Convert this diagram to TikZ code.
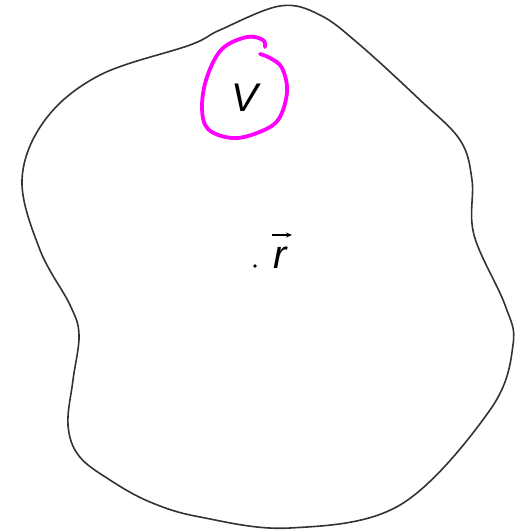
\documentclass[tikz,border=0pt]{standalone}
\usepackage{fontspec}
\setmainfont{Liberation Sans}
\usetikzlibrary{arrows.meta}
\begin{document}
\begin{tikzpicture}[x=1pt,y=-1pt,
  blob/.style={draw=black!80,line width=1.6pt},
  loop/.style={draw={rgb,255:red,255;green,0;blue,255},line width=3.8pt,line cap=round},
  lbl/.style={font=\fontsize{40}{48}\selectfont\itshape,inner sep=0pt}]
\useasboundingbox (0,0) rectangle (514,532);
\draw[blob] plot[smooth cycle,tension=0.6] coordinates {
 (280,6) (320,15) (360,45) (420,100) (460,140) (472,180) (474,235) (505,305)
 (513,345) (490,410) (400,505) (290,528) (200,517) (150,502) (110,480) (79,456)
 (68,425) (73,380) (79,335)
 (70,305) (40,250) (22,180) (45,120) (100,75) (190,45) (220,30)};
\draw[loop] plot[smooth,tension=0.6] coordinates {
 (265,47) (263,40) (247,37) (222,49) (207,77) (202,107) (208,129) (232,138)
 (257,133) (278,120) (287,92) (282,68) (270,58) (260,54)};
\node[lbl,anchor=base] (V) at (245,111) {V};
\node[lbl,anchor=base] (r) at (280,268) {r};
\fill (255,266) circle (1.8) coordinate (p);
\coordinate (a1) at (272,235);
\coordinate (a2) at (292,235);
\draw[line width=1.2pt,-{Stealth[length=6pt,width=5pt]}] (a1) -- (a2);
\end{tikzpicture}
\end{document}
